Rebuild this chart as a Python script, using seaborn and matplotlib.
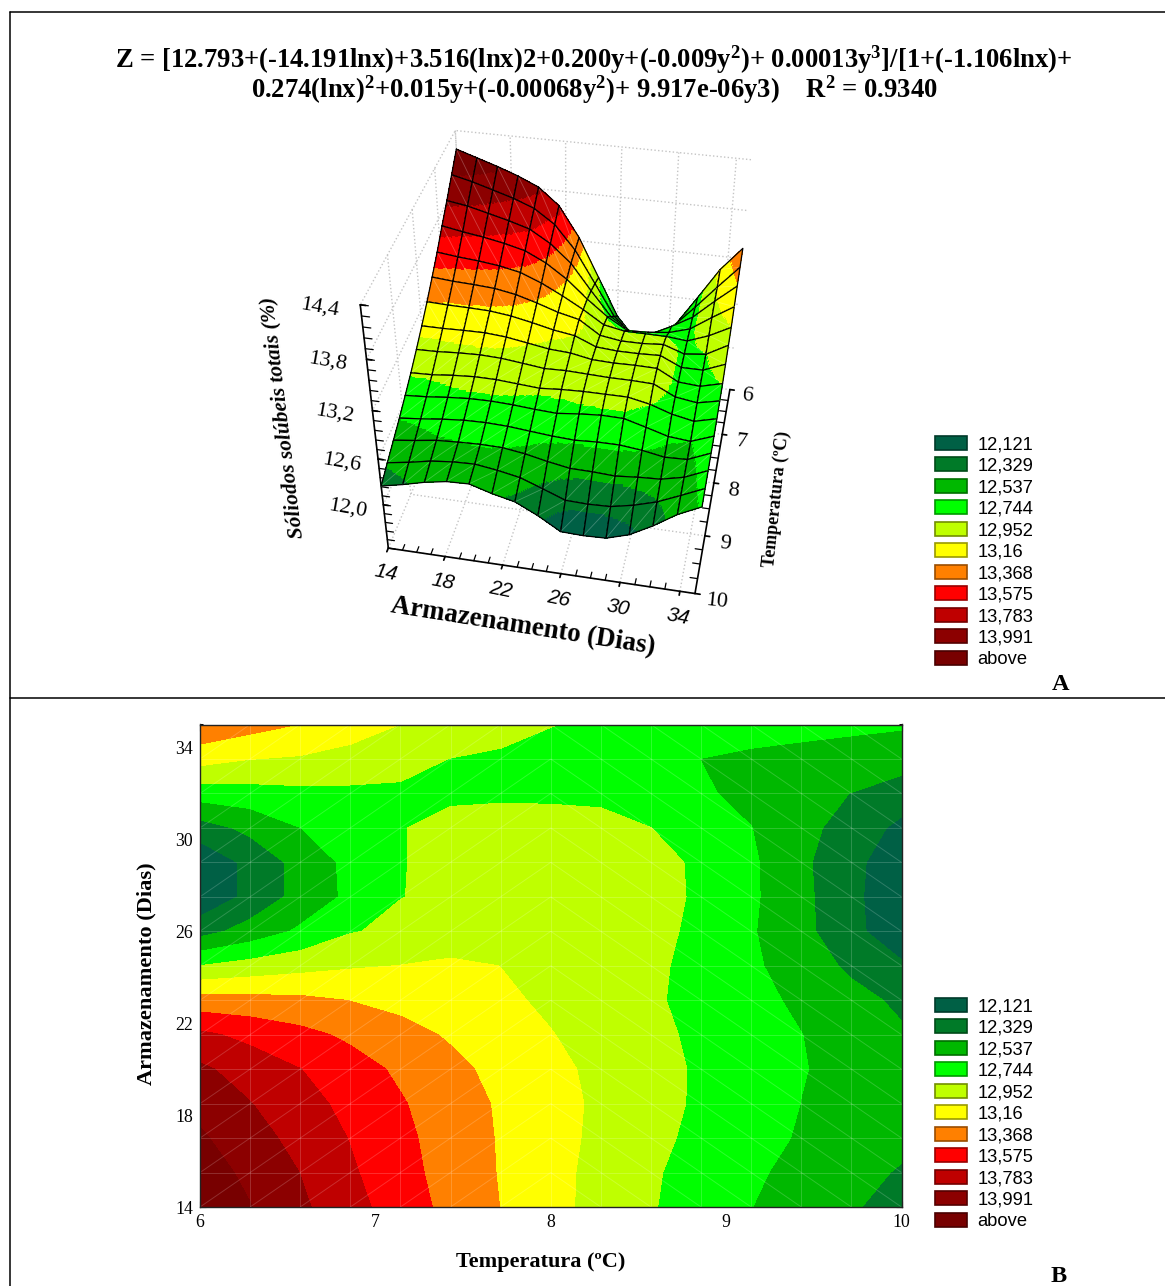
import numpy as np
import matplotlib
matplotlib.use("Agg")
import matplotlib.pyplot as plt
import seaborn as sns
from matplotlib.colors import ListedColormap, BoundaryNorm
from matplotlib.patches import Patch
from matplotlib.lines import Line2D
from matplotlib.collections import LineCollection
from matplotlib.ticker import MultipleLocator

temperatures = [6 + i * 4 / 14 for i in range(15)]
days = [14 + j * 1.5 for j in range(15)]

z_d14 = [14.18,14.00,13.82,13.65,13.47,13.31,13.157,13.015,12.883,12.759,12.648,12.54,12.445,12.35,12.25]
z_d15 = [14.10,13.94,13.78,13.604,13.44,13.288,13.147,13.015,12.889,12.768,12.666,12.568,12.48,12.395,12.31]
z_d17 = [14.02,13.866,13.717,13.566,13.418,13.276,13.143,13.022,12.906,12.795,12.694,12.60,12.52,12.45,12.38]
z_d18 = [13.93,13.79,13.653,13.517,13.386,13.258,13.135,13.024,12.915,12.812,12.714,12.624,12.535,12.48,12.43]
z_d20 = [13.82,13.694,13.578,13.454,13.333,13.212,13.103,13.003,12.905,12.81,12.718,12.63,12.545,12.49,12.44]
z_d21 = [13.617,13.52,13.425,13.33,13.23,13.137,13.05,12.96,12.875,12.79,12.706,12.62,12.54,12.45,12.355]
z_d23 = [13.24,13.225,13.205,13.155,13.10,13.05,12.99,12.917,12.843,12.77,12.685,12.595,12.50,12.395,12.29]
z_d24 = [12.745,12.82,12.88,12.93,12.955,12.99,12.95,12.90,12.85,12.79,12.67,12.57,12.44,12.29,12.15]
z_d26 = [12.25,12.41,12.57,12.73,12.79,12.82,12.84,12.85,12.84,12.80,12.70,12.555,12.39,12.18,11.98]
z_d27 = [11.95,12.18,12.40,12.58,12.74,12.78,12.82,12.84,12.83,12.80,12.72,12.57,12.385,12.17,11.97]
z_d29 = [11.95,12.18,12.40,12.59,12.738,12.78,12.82,12.845,12.83,12.80,12.715,12.57,12.37,12.18,11.98]
z_d30 = [12.24,12.38,12.535,12.62,12.735,12.80,12.83,12.84,12.82,12.745,12.64,12.54,12.395,12.24,12.07]
z_d32 = [12.63,12.66,12.69,12.70,12.71,12.71,12.71,12.70,12.69,12.655,12.56,12.49,12.41,12.325,12.23]
z_d33 = [13.03,12.955,12.93,12.88,12.81,12.74,12.71,12.68,12.65,12.60,12.535,12.50,12.475,12.45,12.42]
z_d35 = [13.33,13.24,13.155,13.05,12.95,12.89,12.82,12.75,12.71,12.67,12.64,12.62,12.60,12.58,12.56]

level_values = [12.121,12.329,12.537,12.744,12.952,13.16,13.368,13.575,13.783,13.991]
legend_labels = ["12,121","12,329","12,537","12,744","12,952","13,16","13,368","13,575","13,783","13,991","above"]
band_colors = ["#006045","#007a28","#00b800","#00ff00","#bfff00","#ffff00","#ff8000","#ff0000","#bf0000","#8c0000","#780000"]
edge_colors = ["#003a2a","#004a18","#006e00","#009900","#738f00","#999900","#994d00","#990000","#730000","#540000","#480000"]

Z = np.array([z_d14,z_d15,z_d17,z_d18,z_d20,z_d21,z_d23,z_d24,z_d26,z_d27,z_d29,z_d30,z_d32,z_d33,z_d35])
T = np.array(temperatures)
D = np.array(days)

W, H = 1165, 1286
sns.set_theme(style="white")
plt.rcParams["font.family"] = ["Liberation Serif", "DejaVu Serif"]
plt.rcParams["mathtext.fontset"] = "custom"
plt.rcParams["mathtext.bf"] = "Liberation Serif:bold"
plt.rcParams["mathtext.rm"] = "Liberation Serif:bold"
plt.rcParams["text.color"] = "black"
plt.rcParams["xtick.color"] = "black"
plt.rcParams["ytick.color"] = "black"
plt.rcParams["axes.labelcolor"] = "black"

palette = sns.color_palette(band_colors)
cmap = ListedColormap(palette)
bounds = [-1e3] + level_values + [1e3]
norm = BoundaryNorm(bounds, cmap.N)

fig = plt.figure(figsize=(W / 100, H / 100), dpi=100, facecolor="white")


def px_rect(left, top, right, bottom):
    return [left / W, 1 - bottom / H, (right - left) / W, (bottom - top) / H]


frame = [((10, 12), (10, H)), ((10, 12), (W, 12)), ((10, 697.5), (W, 697.5))]
for (x0, y0), (x1, y1) in frame:
    fig.add_artist(Line2D([x0 / W, x1 / W], [1 - y0 / H, 1 - y1 / H], color="black", lw=1.1))

# ---- 3D panel -------------------------------------------------------
ax3 = fig.add_axes(px_rect(305.5, 102, 821.5, 618), projection="3d", computed_zorder=False)
ax3.patch.set_alpha(0)
ax3.set_proj_type("persp", focal_length=0.495)
ax3.view_init(elev=37.9, azim=-78.7)
ax3.set_box_aspect((0.2224, 0.228, 0.2165), zoom=1.0)
ax3.set_xlim(14, 35)
ax3.set_ylim(10, 6)
ax3.set_zlim(11.4, 14.4)

SUB = 14
Tf = np.linspace(6, 10, 14 * SUB + 1)
Df = np.linspace(14, 35, 14 * SUB + 1)
Zc = np.array([np.interp(Tf, T, row) for row in Z])
Zf = np.array([np.interp(Df, D, col) for col in Zc.T])
Xf, Yf = np.meshgrid(Df, Tf)

# painter's order: far temperature rows first, one mesh cell at a time
order = 10
for i in range(14):
    for j in range(14):
        a, b = i * SUB, (i + 1) * SUB + 1
        c, d = j * SUB, (j + 1) * SUB + 1
        zcell = Zf[a:b, c:d]
        ax3.plot_surface(Xf[a:b, c:d], Yf[a:b, c:d], zcell, facecolors=cmap(norm(zcell)),
                         rstride=1, cstride=1, shade=False, linewidth=0,
                         antialiased=False, zorder=order)
        xs = [D[j], D[j + 1], D[j + 1], D[j], D[j]]
        ys = [T[i], T[i], T[i + 1], T[i + 1], T[i]]
        zs = [Z[j, i], Z[j + 1, i], Z[j + 1, i + 1], Z[j, i + 1], Z[j, i]]
        if i < 7:
            ax3.plot([D[j], D[j + 1]], [T[i], T[i + 1]], [Z[j, i], Z[j + 1, i + 1]],
                     color="white", alpha=0.25, lw=0.6, zorder=order + 0.2)
        else:
            ax3.plot([D[j + 1], D[j]], [T[i], T[i + 1]], [Z[j + 1, i], Z[j, i + 1]],
                     color="white", alpha=0.25, lw=0.6, zorder=order + 0.2)
        ax3.plot(xs, ys, zs, color="black", lw=0.9, zorder=order + 0.5)
        order += 1

ax3.set_xticks([14, 18, 22, 26, 30, 34])
ax3.set_yticks([6, 7, 8, 9, 10])
ax3.set_zticks([12.0, 12.6, 13.2, 13.8, 14.4])
ax3.set_xticklabels(["14", "18", "22", "26", "30", "34"], fontsize=15, family="Liberation Sans", rotation=-11, style="italic")
ax3.set_yticklabels(["6", "7", "8", "9", "10"], fontsize=16, rotation=-6, va="bottom")
ax3.set_zticklabels(["12,0", "12,6", "13,2", "13,8", "14,4"], fontsize=16, rotation=-10, va="bottom")
ax3.zaxis.set_ticks_position("upper")
ax3.tick_params(axis="x", pad=-2)
ax3.tick_params(axis="y", pad=6)
ax3.tick_params(axis="z", pad=9)
for axis in (ax3.xaxis, ax3.yaxis, ax3.zaxis):
    axis.set_pane_color((1, 1, 1, 0))
    axis.pane.set_edgecolor((0.75, 0.75, 0.75, 1))
    axis.pane.set_linestyle(":")
    axis.line.set_color("black")
    axis.line.set_linewidth(1.2)
    axis._axinfo["grid"].update(color="#c4c4c4", linestyle=":", linewidth=1.0)
    axis._axinfo["tick"].update(inward_factor=0.2, outward_factor=0.0)
ax3.grid(True)

# minor tick stubs along the three drawn axes
for day in range(14, 35):
    if day not in (14, 18, 22, 26, 30, 34):
        ax3.plot([day, day], [10, 9.9], [11.4, 11.4], color="black", lw=0.9, zorder=1)
for temp in np.arange(6, 10.01, 0.25):
    if temp % 1 != 0:
        ax3.plot([35, 34.5], [temp, temp], [11.4, 11.4], color="black", lw=0.9, zorder=1)
for level in np.arange(11.4, 14.41, 0.12):
    ax3.plot([14, 14.5], [10, 10], [level, level], color="black", lw=0.9, zorder=1)

fig.text(523 / W, 1 - 627 / H, "Armazenamento (Dias)", rotation=-9, fontsize=19.4, fontweight="bold", ha="center", va="center")
fig.text(283 / W, 1 - 417 / H, "Sóliodos solúbeis totais (%)", rotation=97, fontsize=15.5, fontweight="bold", style="italic", ha="center", va="center")
fig.text(777 / W, 1 - 499 / H, "Temperatura (ºC)", rotation=84, fontsize=13, fontweight="bold", ha="center", va="center")

# ---- contour panel --------------------------------------------------
ax = fig.add_axes(px_rect(200, 724.5, 901.5, 1207))
ax.contourf(T, D, Z, levels=bounds, cmap=cmap, norm=norm, antialiased=False)
ax.set_xlim(6, 10)
ax.set_ylim(14, 35)

segs = []
for t in T[1:-1]:
    segs.append([(t, 14), (t, 35)])
for d in D[1:-1]:
    segs.append([(6, d), (10, d)])
for i in range(14):
    for j in range(14):
        if i < 7:
            segs.append([(T[i], D[j]), (T[i + 1], D[j + 1])])
        else:
            segs.append([(T[i], D[j + 1]), (T[i + 1], D[j])])
ax.add_collection(LineCollection(segs, colors=[(1, 1, 1, 0.18)], linewidths=0.7))
ax.xaxis.set_major_locator(MultipleLocator(1))
ax.xaxis.set_minor_locator(MultipleLocator(0.25))
ax.yaxis.set_minor_locator(MultipleLocator(1))
ax.set_yticks([14, 18, 22, 26, 30, 34])
ax.grid(True, which="major", color="white", linestyle=":", linewidth=0.9, alpha=0.75)
ax.tick_params(which="major", direction="in", length=4, width=0.8, color="black",
               top=True, right=True, bottom=True, left=True, labelsize=12.8, pad=5)
ax.tick_params(which="minor", direction="in", length=2, width=0.7, color="black",
               top=True, right=True, bottom=True, left=True)
for s in ax.spines.values():
    s.set_color("#222222")
    s.set_linewidth(1.0)
    s.set_zorder(5)
fig.text(541 / W, 1 - 1262 / H, "Temperatura (ºC)", fontsize=16, fontweight="bold", ha="center", va="center")
fig.text(146 / W, 1 - 974 / H, "Armazenamento (Dias)", rotation=90, fontsize=16.1, fontweight="bold", ha="center", va="center")

# ---- legends --------------------------------------------------------
handles = [Patch(facecolor=c, edgecolor=e, linewidth=1.2) for c, e in zip(band_colors, edge_colors)]
for x_px, top_px in ((931, 432), (931, 994)):
    fig.legend(handles, legend_labels, loc="upper left", bbox_to_anchor=(x_px / W, 1 - top_px / H),
               frameon=False, prop={"family": "Liberation Sans", "size": 13.2},
               handlelength=1.77, handleheight=0.8, handletextpad=0.55,
               labelspacing=0.225, borderpad=0.2, borderaxespad=0)

# ---- title and panel letters ---------------------------------------
fig.text(594 / W, 1 - 60 / H, r"Z = [12.793+(-14.191lnx)+3.516(lnx)2+0.200y+(-0.009y$\mathbf{^{2}}$)+ 0.00013y$\mathbf{^{3}}$]/[1+(-1.106lnx)+",
         fontsize=19.2, fontweight="bold", ha="center", va="center")
fig.text(594 / W, 1 - 90 / H, r"0.274(lnx)$\mathbf{^{2}}$+0.015y+(-0.00068y$\mathbf{^{2}}$)+ 9.917e-06y3)    R$\mathbf{^{2}}$ = 0.9340",
         fontsize=19.2, fontweight="bold", ha="center", va="center")
fig.text(1061 / W, 1 - 684 / H, "A", fontsize=17.5, fontweight="bold", ha="center", va="center")
fig.text(1059 / W, 1 - 1277 / H, "B", fontsize=17.5, fontweight="bold", ha="center", va="center")

fig.savefig("out.png", dpi=100, facecolor="white")
